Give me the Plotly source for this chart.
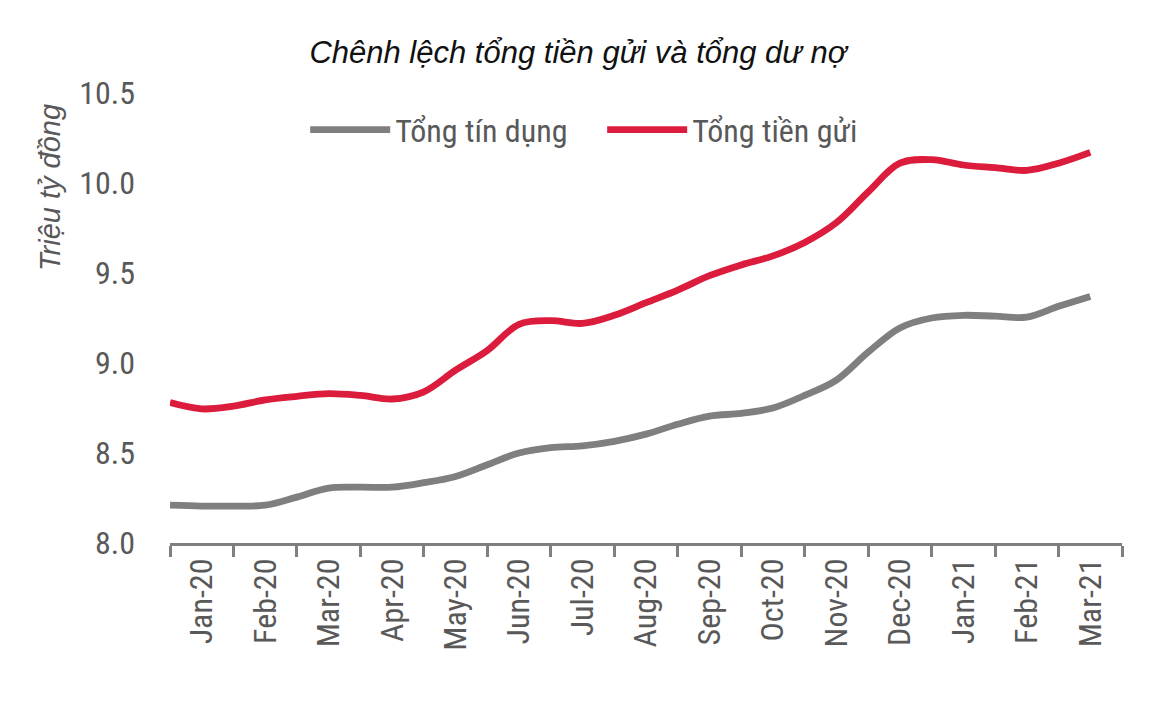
import plotly.graph_objects as go

# Month labels (category axis labels)
periods = ["Jan-20", "Feb-20", "Mar-20", "Apr-20", "May-20", "Jun-20", "Jul-20",
           "Aug-20", "Sep-20", "Oct-20", "Nov-20", "Dec-20", "Jan-21", "Feb-21", "Mar-21"]

# Readings taken every half month (0 = Jan-20 ... 14 = Mar-21)
x_month = [i / 2 for i in range(-1, 29)]

# Tổng tín dụng (million billion VND)
tong_tin_dung = [8.21, 8.205, 8.205, 8.21, 8.255, 8.305, 8.31, 8.31, 8.335, 8.37,
                 8.435, 8.50, 8.53, 8.54, 8.565, 8.605, 8.66, 8.705, 8.72, 8.75,
                 8.82, 8.905, 9.06, 9.195, 9.25, 9.265, 9.26, 9.255, 9.315, 9.37]

# Tổng tiền gửi
tong_tien_gui = [8.78, 8.745, 8.76, 8.795, 8.815, 8.83, 8.82, 8.80, 8.84, 8.96,
                 9.07, 9.215, 9.235, 9.22, 9.265, 9.335, 9.405, 9.485, 9.545, 9.595,
                 9.67, 9.78, 9.95, 10.11, 10.13, 10.10, 10.085, 10.07, 10.11, 10.17]

y_ticks = [8.0, 8.5, 9.0, 9.5, 10.0, 10.5]

FONT = "Liberation Sans Narrow, Arial Narrow, Roboto Condensed, Liberation Sans, sans-serif"
FONT_WIDE = "Liberation Sans, Arial, sans-serif"
GREY = "#7f7f7f"
RED = "#dc1c3c"
TXT = "#595959"

fig = go.Figure()
fig.add_trace(go.Scatter(x=x_month, y=tong_tin_dung, mode="lines", name="Tổng tín dụng",
                         line=dict(color=GREY, width=6.8, shape="spline", smoothing=1.0)))
fig.add_trace(go.Scatter(x=x_month, y=tong_tien_gui, mode="lines", name="Tổng tiền gửi",
                         line=dict(color=RED, width=6.8, shape="spline", smoothing=1.0)))

n = len(periods)
fig.update_layout(
    width=1168, height=722,
    paper_bgcolor="white", plot_bgcolor="white",
    margin=dict(l=162, r=54, t=85, b=187),
    font=dict(family=FONT, color=TXT),
    title=dict(text="Chênh lệch tổng tiền gửi và tổng dư nợ",
               font=dict(family=FONT_WIDE, size=31, color="#111111", style="italic"),
               x=(578 - 8) / 1168, xref="container", xanchor="center",
               y=1 - (52 - 8) / 722, yref="container", yanchor="middle"),
    showlegend=True,
    legend=dict(orientation="h", x=0.142, xanchor="left", y=0.918, yanchor="middle",
                font=dict(family=FONT, size=32, color=TXT),
                bgcolor="rgba(0,0,0,0)", entrywidth=202, entrywidthmode="pixels",
                itemwidth=80),
    xaxis=dict(range=[-0.5, n - 0.5], tickmode="array",
               tickvals=list(range(n)), ticktext=periods, tickangle=-90,
               ticks="", showgrid=False, zeroline=False,
               showline=True, linecolor=GREY, linewidth=2.5,
               tickfont=dict(family=FONT, size=32, color=TXT),
               minor=dict(tickmode="array", tickvals=[i - 0.5 for i in range(n + 1)],
                          ticks="outside", ticklen=11, tickwidth=2.5, tickcolor=GREY,
                          showgrid=False)),
    yaxis=dict(range=[8.0, 10.5], tickmode="array", tickvals=y_ticks,
               tickformat=".1f", showgrid=False, zeroline=False, showline=False,
               ticks="", ticklabelstandoff=34,
               tickfont=dict(family=FONT, size=32, color=TXT)),
    annotations=[dict(text="Triệu tỷ đồng", xref="paper", yref="paper",
                      x=(50 - 170) / 952, y=(543 - 188) / 450, showarrow=False,
                      textangle=-90, xanchor="center", yanchor="middle",
                      font=dict(family=FONT_WIDE, size=29, color=TXT, style="italic"))],
)

fig.write_html("out.html")
